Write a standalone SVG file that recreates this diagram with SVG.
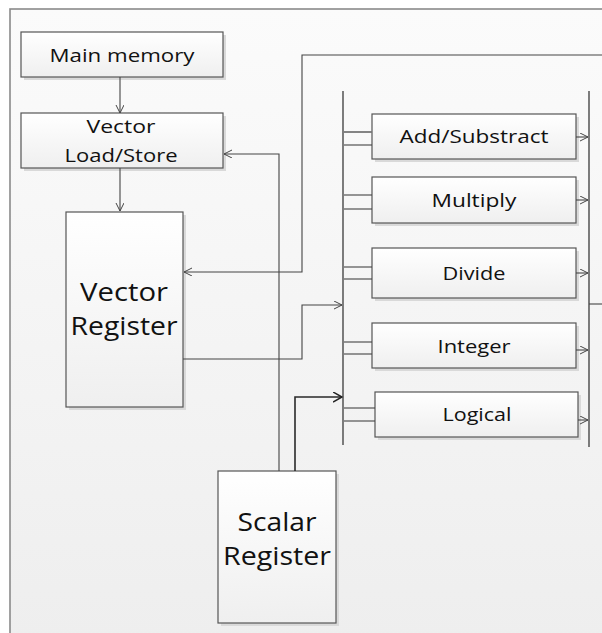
<svg xmlns="http://www.w3.org/2000/svg" width="602" height="633" viewBox="0 0 602 633">
<style>
.box{fill:url(#boxg);stroke:#555;stroke-width:1.2}
.sh{fill:#d9d9d9}
.t{font-family:"Open Sans","Noto Sans",sans-serif;font-size:19px;fill:#111;text-anchor:middle}
.tl{font-family:"Open Sans","Noto Sans",sans-serif;font-size:25px;fill:#111;text-anchor:middle}
.c{fill:none;stroke:#444;stroke-width:1.1}
.bus{fill:none;stroke:#3a3a3a;stroke-width:1.3}
.dk{fill:none;stroke:#2a2a2a;stroke-width:1.6}
</style>
<defs>
<linearGradient id="bg" x1="0" y1="0" x2="0" y2="1">
<stop offset="0" stop-color="#fbfbfb"/>
<stop offset="1" stop-color="#eeeeee"/>
</linearGradient>
<linearGradient id="boxg" x1="0" y1="0" x2="0" y2="1">
<stop offset="0" stop-color="#ffffff"/>
<stop offset="1" stop-color="#efefef"/>
</linearGradient>
<marker id="a" markerUnits="userSpaceOnUse" markerWidth="10" markerHeight="10" refX="8" refY="4" orient="auto">
<path d="M0,0 L8,4 L0,8" fill="none" stroke="#444" stroke-width="1"/>
</marker>
<marker id="ad" markerUnits="userSpaceOnUse" markerWidth="12" markerHeight="12" refX="9" refY="5" orient="auto">
<path d="M0,0 L9,5 L0,10" fill="none" stroke="#222" stroke-width="1.5"/>
</marker>
</defs>
<rect x="0" y="0" width="602" height="633" fill="#ffffff"/>
<rect id="frame" x="10" y="9" width="600" height="630" fill="url(#bg)" stroke="#8a8a8a" stroke-width="1.6"/>

<g id="main-memory">
<rect class="sh" x="24" y="35" width="202" height="45"/>
<rect class="box" x="21" y="32" width="202" height="45"/>
<text class="t" x="122" y="62" textLength="145" lengthAdjust="spacingAndGlyphs">Main memory</text>
</g>
<g id="vector-load-store">
<rect class="sh" x="24" y="116" width="202" height="55"/>
<rect class="box" x="21" y="113" width="202" height="55"/>
<text class="t" x="121" y="133" textLength="69" lengthAdjust="spacingAndGlyphs">Vector</text>
<text class="t" x="121" y="162" textLength="113" lengthAdjust="spacingAndGlyphs">Load/Store</text>
</g>
<g id="vector-register">
<rect class="sh" x="69" y="215" width="117" height="195"/>
<rect class="box" x="66" y="212" width="117" height="195"/>
<text class="tl" x="124" y="301" textLength="88" lengthAdjust="spacingAndGlyphs">Vector</text>
<text class="tl" x="124" y="335" textLength="107" lengthAdjust="spacingAndGlyphs">Register</text>
</g>
<g id="scalar-register">
<rect class="sh" x="221" y="474" width="118" height="152"/>
<rect class="box" x="218" y="471" width="118" height="152"/>
<text class="tl" x="277" y="531" textLength="79" lengthAdjust="spacingAndGlyphs">Scalar</text>
<text class="tl" x="277" y="565" textLength="108" lengthAdjust="spacingAndGlyphs">Register</text>
</g>
<g id="add-substract">
<rect class="sh" x="375" y="117" width="204" height="45"/>
<rect class="box" x="372" y="114" width="204" height="45"/>
<text class="t" x="474" y="143" textLength="149" lengthAdjust="spacingAndGlyphs">Add/Substract</text>
</g>
<g id="multiply">
<rect class="sh" x="375" y="180" width="204" height="46"/>
<rect class="box" x="372" y="177" width="204" height="46"/>
<text class="t" x="474" y="207" textLength="85" lengthAdjust="spacingAndGlyphs">Multiply</text>
</g>
<g id="divide">
<rect class="sh" x="375" y="251" width="204" height="50"/>
<rect class="box" x="372" y="248" width="204" height="50"/>
<text class="t" x="474" y="280" textLength="63" lengthAdjust="spacingAndGlyphs">Divide</text>
</g>
<g id="integer">
<rect class="sh" x="375" y="326" width="204" height="45"/>
<rect class="box" x="372" y="323" width="204" height="45"/>
<text class="t" x="474" y="353" textLength="73" lengthAdjust="spacingAndGlyphs">Integer</text>
</g>
<g id="logical">
<rect class="sh" x="378" y="395" width="203" height="45"/>
<rect class="box" x="375" y="392" width="203" height="45"/>
<text class="t" x="477" y="421" textLength="69" lengthAdjust="spacingAndGlyphs">Logical</text>
</g>

<g id="connectors">
<line class="c" x1="120" y1="77" x2="120" y2="113" marker-end="url(#a)"/>
<line class="c" x1="120" y1="168" x2="120" y2="211" marker-end="url(#a)"/>
<polyline class="c" points="602,55 302,55 302,272 184,272" marker-end="url(#a)"/>
<polyline class="c" points="279,471 279,154 224,154" marker-end="url(#a)"/>
<polyline class="c" points="183,359 302,359 302,305 342,305" marker-end="url(#a)"/>
<polyline class="dk" points="295,471 295,397 342,397" marker-end="url(#ad)"/>
<line class="bus" x1="343" y1="91" x2="343" y2="445"/>
<line class="bus" x1="589" y1="91" x2="589" y2="447"/>
<line class="c" x1="589" y1="304" x2="602" y2="304"/>
<g class="c">
<line x1="344" y1="132" x2="372" y2="132" stroke="#777" stroke-width="1.8"/>
<line x1="344" y1="145" x2="372" y2="145"/>
<line x1="344" y1="195" x2="372" y2="195"/>
<line x1="344" y1="209" x2="372" y2="209"/>
<line x1="344" y1="267" x2="372" y2="267"/>
<line x1="344" y1="279" x2="372" y2="279"/>
<line x1="344" y1="342" x2="372" y2="342"/>
<line x1="344" y1="354" x2="372" y2="354"/>
<line x1="344" y1="408" x2="375" y2="408"/>
<line x1="344" y1="421" x2="375" y2="421"/>
</g>
<line class="c" x1="576" y1="137" x2="588" y2="137" marker-end="url(#a)"/>
<line class="c" x1="576" y1="200" x2="588" y2="200" marker-end="url(#a)"/>
<line class="c" x1="576" y1="273" x2="588" y2="273" marker-end="url(#a)"/>
<line class="c" x1="576" y1="350" x2="588" y2="350" marker-end="url(#a)"/>
<line class="c" x1="578" y1="420" x2="588" y2="420" marker-end="url(#a)"/>
</g>
</svg>
